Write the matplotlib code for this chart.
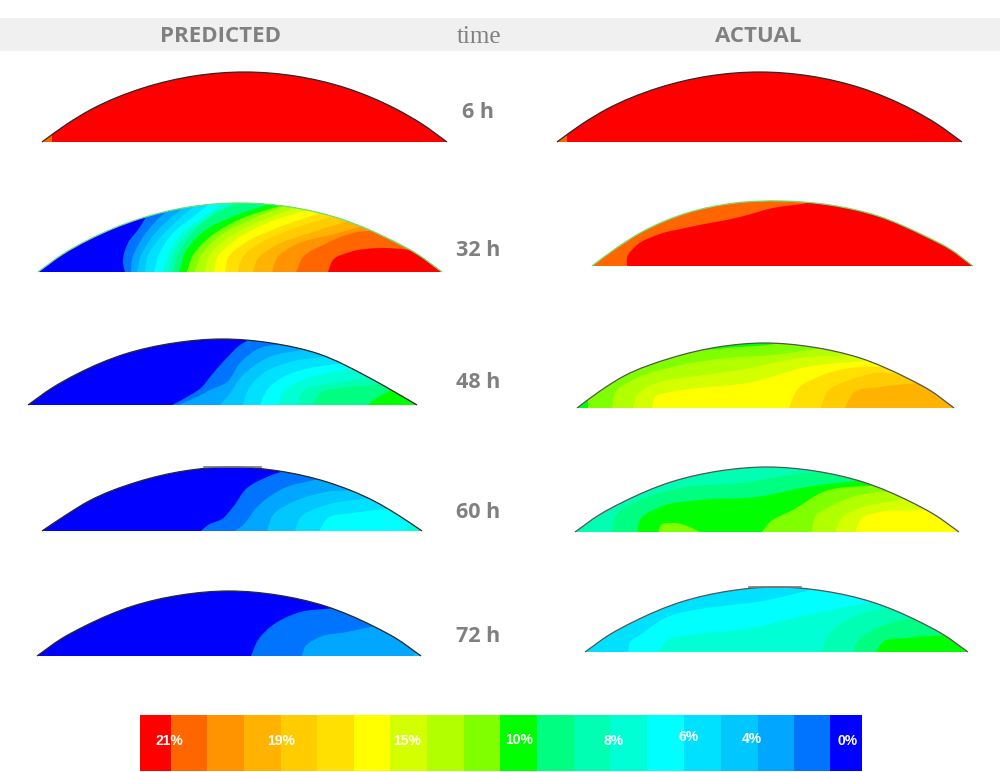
"""
Moisture contour domes, predicted against actual, with the shared colour scale.
Contour lines are read off the picture, so the axes run in picture pixels.
"""

import math

import matplotlib
matplotlib.use("Agg")
import matplotlib.pyplot as plt
from matplotlib.patches import PathPatch, Rectangle
from matplotlib.path import Path

# ── Colour scale ──────────────────────────────────────────────────────
SCALE_COLORS = [
    "#ff0000", "#ff6600", "#ff9400", "#ffb200", "#ffcc00",
    "#ffe000", "#ffff00", "#d4ff00", "#b2ff00", "#80ff00",
    "#00ff00", "#00ff80", "#00ffb2", "#00ffd4", "#00ffff",
    "#00e0ff", "#00c8ff", "#00a6ff", "#0073ff", "#0000ff",
]
SCALE_EDGES = [140, 171, 207, 244, 281, 317, 354, 390, 427, 464, 500,
               537, 574, 610, 647, 684, 721, 758, 794, 830, 862]
SCALE_LABELS = ["21%", "19%", "15%", "10%", "8%", "6%", "4%", "0%"]
SCALE_LABEL_X = [169, 281, 407, 519, 614, 689, 752, 848]
SCALE_LABEL_Y = [741, 741, 741, 740, 741, 737, 739, 741]

# ── Headers and time labels ───────────────────────────────────────────
TIME_LABELS = ["6 h", "32 h", "48 h", "60 h", "72 h"]
TIME_LABEL_Y = [112, 250, 383, 512, 637]

# ── Dome outlines and contour lines (colour index, line) ──────────────
PRED_6_OUTLINE = [(42, 142), (67, 124), (92, 109), (143, 88), (194, 76), (245, 72),
                  (295, 76), (346, 88), (396, 109), (422, 124), (447, 142)]
PRED_6_BASE = 1
PRED_6_BANDS = [(0, [(52, 142), (52, 130)])]

ACTUAL_6_OUTLINE = [(557, 142), (582, 124), (607, 109), (658, 88), (709, 76), (760, 72),
                    (810, 76), (861, 88), (911, 109), (937, 124), (962, 142)]
ACTUAL_6_BASE = 1
ACTUAL_6_BANDS = [(0, [(567, 142), (567, 130)])]

PRED_32_OUTLINE = [(38, 272), (63, 254), (88, 240), (139, 219), (189, 207), (240, 203),
                   (290, 207), (341, 219), (391, 240), (417, 254), (442, 272)]
PRED_32_BASE = 19
PRED_32_BANDS = [
    (18, [(125, 272), (123, 263), (128, 243), (140, 227), (148, 213)]),
    (17, [(131, 272), (132, 260), (140, 242), (157, 220), (173, 206)]),
    (16, [(137, 272), (140, 258), (150, 240), (168, 220), (188, 204)]),
    (15, [(145, 272), (147, 258), (160, 238), (180, 218), (200, 202)]),
    (14, [(154, 272), (158, 257), (173, 233), (193, 217), (213, 201)]),
    (13, [(163, 272), (167, 257), (182, 233), (203, 217), (227, 201)]),
    (12, [(168, 272), (172, 257), (187, 233), (210, 217), (237, 201)]),
    (11, [(173, 272), (177, 257), (192, 233), (217, 212), (247, 201)]),
    (10, [(179, 272), (185, 253), (203, 232), (237, 215), (270, 204)]),
    (9, [(187, 272), (192, 257), (210, 237), (243, 218), (283, 205)]),
    (8, [(195, 272), (200, 257), (217, 238), (250, 220), (287, 205)]),
    (7, [(205, 272), (208, 258), (225, 240), (258, 222), (298, 207)]),
    (6, [(214, 272), (217, 258), (233, 242), (267, 223), (307, 210)]),
    (5, [(225, 272), (228, 258), (245, 243), (277, 228), (320, 213)]),
    (4, [(238, 272), (242, 258), (257, 245), (290, 230), (333, 216)]),
    (3, [(253, 272), (257, 260), (273, 247), (310, 233), (348, 221)]),
    (2, [(272, 272), (277, 258), (295, 245), (330, 235), (365, 226)]),
    (1, [(296, 272), (303, 257), (323, 245), (353, 233), (380, 230)]),
    (0, [(328, 272), (333, 260), (350, 252), (383, 248), (412, 250)]),
]

ACTUAL_32_OUTLINE = [(592, 266), (615, 249), (640, 233), (687, 213), (735, 203), (782, 201),
                     (830, 205), (878, 216), (925, 236), (950, 249), (973, 266)]
ACTUAL_32_BASE = 1
ACTUAL_32_BANDS = [
    (0, [(627, 266), (627, 258), (637, 245), (657, 235), (690, 227), (740, 217),
         (773, 208), (807, 203), (820, 200)]),
]

PRED_48_OUTLINE = [(28, 405), (52, 388), (77, 374), (125, 354), (174, 343), (222, 339),
                   (271, 343), (319, 354), (368, 377), (393, 391), (417, 405)]
PRED_48_BASE = 19
PRED_48_BANDS = [
    (18, [(172, 405), (187, 397), (202, 387), (210, 377), (223, 362), (243, 343), (253, 338)]),
    (17, [(178, 405), (197, 397), (210, 390), (227, 382), (240, 363), (260, 348), (287, 344)]),
    (16, [(220, 405), (227, 397), (243, 375), (267, 358), (307, 349)]),
    (15, [(243, 405), (247, 392), (265, 372), (290, 362), (330, 356)]),
    (14, [(260, 405), (267, 390), (283, 377), (310, 368), (345, 363)]),
    (13, [(278, 405), (283, 392), (303, 380), (333, 372), (359, 368)]),
    (12, [(297, 405), (302, 392), (322, 385), (353, 380), (375, 376)]),
    (11, [(313, 405), (320, 393), (340, 388), (373, 385), (387, 383)]),
    (10, [(367, 405), (377, 398), (394, 388)]),
]

ACTUAL_48_OUTLINE = [(577, 408), (600, 391), (624, 376), (671, 358), (718, 347), (765, 343),
                     (812, 347), (860, 358), (907, 378), (931, 391), (954, 408)]
ACTUAL_48_BASE = 10
ACTUAL_48_BANDS = [
    (9, [(588, 408), (588, 402), (610, 383), (640, 367), (683, 353), (727, 348), (767, 345), (790, 342)]),
    (8, [(612, 408), (615, 393), (637, 378), (673, 367), (727, 358), (773, 355), (823, 348)]),
    (7, [(633, 408), (637, 395), (657, 383), (690, 377), (740, 370), (800, 358), (853, 355)]),
    (6, [(652, 408), (655, 397), (670, 392), (700, 388), (747, 383), (807, 367), (873, 360)]),
    (5, [(789, 408), (797, 390), (823, 375), (860, 367), (887, 367)]),
    (4, [(821, 408), (827, 392), (850, 380), (877, 373), (905, 375)]),
    (3, [(845, 408), (853, 393), (880, 387), (919, 383)]),
]

PRED_60_OUTLINE = [(42, 531), (66, 515), (89, 501), (137, 482), (184, 471), (232, 467),
                   (279, 471), (327, 482), (374, 501), (398, 515), (422, 531)]
PRED_60_BASE = 19
PRED_60_BANDS = [
    (18, [(201, 531), (208, 525), (222, 519), (233, 507), (247, 488), (267, 477), (290, 469)]),
    (17, [(235, 531), (243, 525), (257, 507), (280, 490), (322, 478)]),
    (16, [(267, 531), (273, 515), (293, 502), (327, 492), (355, 490)]),
    (15, [(295, 531), (300, 518), (320, 507), (353, 500), (375, 498)]),
    (14, [(319, 531), (328, 518), (353, 513), (377, 510), (392, 508)]),
    (13, [(405, 531), (414, 521)]),
]

ACTUAL_60_OUTLINE = [(575, 532), (599, 515), (623, 502), (671, 482), (719, 471), (767, 467),
                     (815, 471), (863, 482), (911, 502), (935, 515), (959, 532)]
ACTUAL_60_BASE = 12
ACTUAL_60_BANDS = [
    (11, [(612, 532), (615, 517), (640, 500), (680, 488), (740, 483), (807, 473), (835, 472)]),
    (10, [(637, 532), (640, 520), (660, 507), (700, 500), (757, 497), (807, 487), (865, 480)]),
    (9, [(762, 532), (770, 522), (793, 510), (823, 492), (880, 485)]),
    (8, [(812, 532), (815, 517), (833, 505), (860, 495), (897, 491)]),
    (7, [(835, 532), (842, 518), (860, 508), (887, 502), (909, 498)]),
    (6, [(855, 532), (862, 518), (880, 512), (917, 510), (929, 508)]),
]
ACTUAL_60_ISLAND_LEVEL = 9
ACTUAL_60_ISLAND = [(658, 533), (661, 525), (673, 523), (690, 527), (701, 533)]

PRED_72_OUTLINE = [(37, 656), (61, 639), (85, 626), (133, 606), (181, 595), (229, 591),
                   (277, 595), (325, 606), (373, 626), (397, 639), (421, 656)]
PRED_72_BASE = 19
PRED_72_BANDS = [
    (18, [(251, 656), (258, 640), (273, 625), (297, 613), (335, 608)]),
    (17, [(302, 656), (305, 647), (320, 637), (347, 632), (379, 625)]),
    (16, [(413, 656), (420, 648)]),
]

ACTUAL_72_OUTLINE = [(585, 652), (609, 635), (633, 622), (681, 602), (729, 591), (776, 587),
                     (824, 591), (872, 602), (920, 622), (944, 635), (968, 652)]
ACTUAL_72_BASE = 15
ACTUAL_72_BANDS = [
    (14, [(628, 652), (630, 642), (640, 635), (667, 617), (707, 608), (757, 602), (815, 589)]),
    (13, [(658, 652), (667, 640), (690, 635), (740, 630), (807, 615), (882, 600)]),
    (12, [(822, 652), (827, 637), (847, 620), (892, 606)]),
    (11, [(853, 652), (857, 642), (873, 630), (919, 616)]),
    (10, [(876, 652), (883, 642), (907, 638), (945, 635)]),
]

# Rough grey caps left at the top of two domes
CAP_60 = [(204, 466.5), (261, 466.5)]
CAP_72 = [(749, 586.5), (801, 586.5)]

GREY = "#808080"
SANS = "Open Sans"


# ── Helpers ───────────────────────────────────────────────────────────
def smooth_segments(pts):
    """Vertices and codes of a curve through pts, tangents favouring the nearer chord."""
    def tangent(i):
        if i == 0 or i == len(pts) - 1:
            a, b = pts[max(i - 1, 0)], pts[min(i + 1, len(pts) - 1)]
            d = math.dist(a, b) or 1.0
            return (b[0] - a[0]) / d, (b[1] - a[1]) / d
        a, p, b = pts[i - 1], pts[i], pts[i + 1]
        d1, d2 = math.dist(a, p) or 1.0, math.dist(p, b) or 1.0
        tx = (d2 * (p[0] - a[0]) / d1 + d1 * (b[0] - p[0]) / d2) / (d1 + d2)
        ty = (d2 * (p[1] - a[1]) / d1 + d1 * (b[1] - p[1]) / d2) / (d1 + d2)
        return tx, ty

    verts, codes = [pts[0]], [Path.MOVETO]
    for i in range(len(pts) - 1):
        p1, p2 = pts[i], pts[i + 1]
        span = math.dist(p1, p2) / 3
        t1, t2 = tangent(i), tangent(i + 1)
        verts += [(p1[0] + t1[0] * span, p1[1] + t1[1] * span),
                  (p2[0] - t2[0] * span, p2[1] - t2[1] * span), p2]
        codes += [Path.CURVE4] * 3
    return verts, codes


def band_path(line, outline):
    """Everything on the lower right of a contour line."""
    verts, codes = smooth_segments(line)
    top = min(y for _, y in outline) - 10
    right = max(x for x, _ in outline) + 10
    bottom = max(y for _, y in outline) + 5
    verts += [(line[-1][0], top), (right, top), (right, bottom), (line[0][0], bottom), line[0]]
    codes += [Path.LINETO] * 4 + [Path.CLOSEPOLY]
    return Path(verts, codes)


def draw_dome(ax, outline, base, bands, edge, island=None):
    verts, codes = smooth_segments(outline)
    dome = Path(verts + [outline[0]], codes + [Path.CLOSEPOLY])
    body = PathPatch(dome, facecolor=SCALE_COLORS[base], edgecolor="none", zorder=2)
    ax.add_patch(body)
    for level, line in bands:
        p = PathPatch(band_path(line, outline), facecolor=SCALE_COLORS[level],
                      edgecolor="none", zorder=3)
        ax.add_patch(p)
        p.set_clip_path(body)
    if island:
        verts_i, codes_i = smooth_segments(island[1])
        p = PathPatch(Path(verts_i + [island[1][0]], codes_i + [Path.CLOSEPOLY]),
                      facecolor=SCALE_COLORS[island[0]], edgecolor="none", zorder=4)
        ax.add_patch(p)
        p.set_clip_path(body)
    ax.add_patch(PathPatch(Path(verts, codes), facecolor="none", edgecolor=edge,
                           linewidth=0.9, zorder=5))


# ── Figure ────────────────────────────────────────────────────────────
fig = plt.figure(figsize=(10, 7.72), dpi=100)
ax = fig.add_axes([0, 0, 1, 1])
ax.set_xlim(0, 1000)
ax.set_ylim(772, 0)
ax.axis("off")

# Header strip
ax.add_patch(Rectangle((0, 18), 1000, 33, facecolor="#f0f0f0", edgecolor="none", zorder=1))
ax.text(221, 36.5, "PREDICTED", ha="center", va="center", fontsize=16,
        fontweight="bold", color=GREY, family=SANS)
ax.text(758, 36.5, "ACTUAL", ha="center", va="center", fontsize=16,
        fontweight="bold", color=GREY, family=SANS)
ax.text(479, 37, "time", ha="center", va="center", fontsize=18,
        color=GREY, family="Liberation Serif")

for label, y in zip(TIME_LABELS, TIME_LABEL_Y):
    ax.text(478, y, label, ha="center", va="center", fontsize=15.5,
            fontweight="bold", color=GREY, family=SANS)

# Domes
DARK_EDGE = "#2a2a2a"
GREEN_EDGE = "#70e070"
draw_dome(ax, PRED_6_OUTLINE, PRED_6_BASE, PRED_6_BANDS, DARK_EDGE)
draw_dome(ax, ACTUAL_6_OUTLINE, ACTUAL_6_BASE, ACTUAL_6_BANDS, DARK_EDGE)
draw_dome(ax, PRED_32_OUTLINE, PRED_32_BASE, PRED_32_BANDS, GREEN_EDGE)
draw_dome(ax, ACTUAL_32_OUTLINE, ACTUAL_32_BASE, ACTUAL_32_BANDS, GREEN_EDGE)
draw_dome(ax, PRED_48_OUTLINE, PRED_48_BASE, PRED_48_BANDS, DARK_EDGE)
draw_dome(ax, ACTUAL_48_OUTLINE, ACTUAL_48_BASE, ACTUAL_48_BANDS, "#555555")
draw_dome(ax, PRED_60_OUTLINE, PRED_60_BASE, PRED_60_BANDS, DARK_EDGE)
draw_dome(ax, ACTUAL_60_OUTLINE, ACTUAL_60_BASE, ACTUAL_60_BANDS, "#555555",
          island=(ACTUAL_60_ISLAND_LEVEL, ACTUAL_60_ISLAND))
draw_dome(ax, PRED_72_OUTLINE, PRED_72_BASE, PRED_72_BANDS, DARK_EDGE)
draw_dome(ax, ACTUAL_72_OUTLINE, ACTUAL_72_BASE, ACTUAL_72_BANDS, "#555555")

for cap in (CAP_60, CAP_72):
    ax.plot(*zip(*cap), color="#777777", linewidth=1.2, zorder=6)

# Colour scale
for left, right, color in zip(SCALE_EDGES[:-1], SCALE_EDGES[1:], SCALE_COLORS):
    ax.bar(left, 56, width=right - left, bottom=715, align="edge", color=color, linewidth=0)
for label, x, y in zip(SCALE_LABELS, SCALE_LABEL_X, SCALE_LABEL_Y):
    ax.text(x, y, label, ha="center", va="center", fontsize=10, fontweight="bold",
            color="white", family="Liberation Sans", zorder=5)

fig.savefig("out.png", dpi=100)
plt.close(fig)
